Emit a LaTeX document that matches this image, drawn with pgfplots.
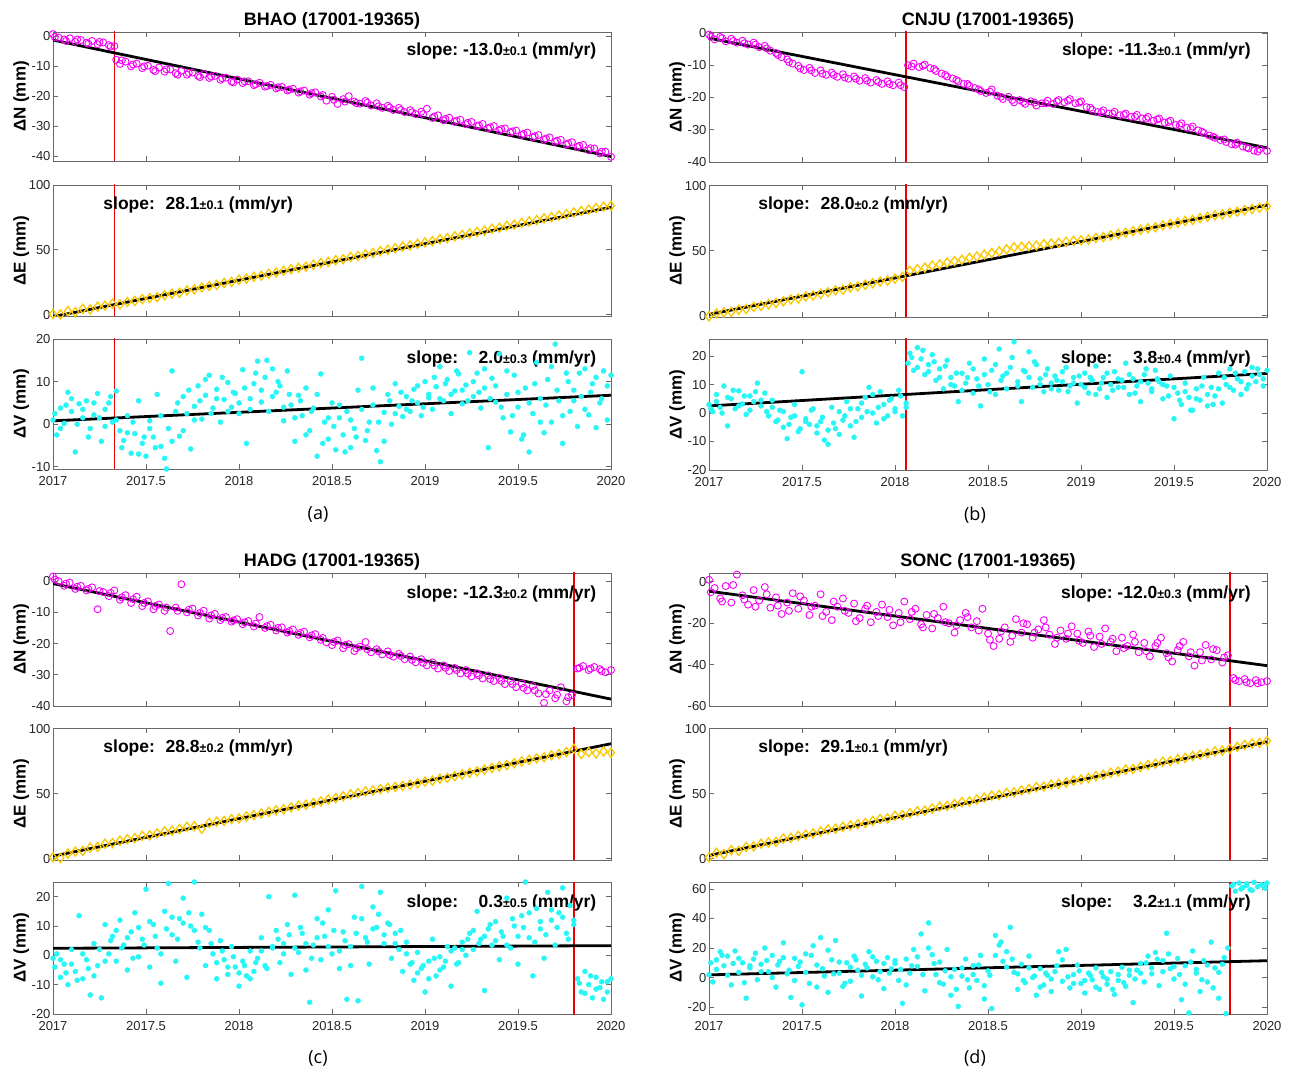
\documentclass[border=0pt]{standalone}
\usepackage{fontspec}
\setmainfont{Liberation Sans}
\newfontfamily\capfont{Open Sans}
\usepackage{pgfplots}
\pgfplotsset{compat=1.18}

\definecolor{boxgray}{RGB}{105,105,105}
\definecolor{labgray}{RGB}{38,38,38}
\definecolor{goldy}{RGB}{250,200,0}
\definecolor{cyanish}{RGB}{40,245,245}
\definecolor{magn}{RGB}{245,0,245}
\definecolor{brkred}{RGB}{235,0,0}

\newcommand{\tickfont}{\fontsize{13}{14}\selectfont}
\newcommand{\labfont}{\fontsize{17}{18}\selectfont\bfseries}
\newcommand{\titfont}{\fontsize{18}{19}\selectfont\bfseries}
\newcommand{\slp}[3]{\fontsize{17.5}{18}\selectfont\bfseries slope:\hspace{#1}#2{\fontsize{12.5}{13}\selectfont\bfseries ±#3} (mm/yr)}

\pgfplotsset{
  base/.style={scale only axis, width=558pt, xmin=2017, xmax=2020,
    xtick={2017,2017.5,2018,2018.5,2019,2019.5,2020}, xticklabels={},
    tick align=inside, tick pos=both, xticklabel pos=lower, yticklabel pos=left,
    major tick length=5pt,
    axis line style={draw=boxgray, line width=0.9pt},
    tick style={draw=boxgray, line width=0.8pt},
    ticklabel style={font=\tickfont, text=labgray},
    yticklabel style={xshift=1pt},
    every axis y label/.style={at={(axis description cs:-0.057,0.5)}, rotate=90, anchor=center, font=\labfont},
    title style={font=\titfont, yshift=-7pt}},
  vax/.style={xticklabels={2017,2017.5,2018,2018.5,2019,2019.5,2020}, xticklabel style={yshift=-4pt}},
  nser/.style={only marks, mark=o, mark size=3.5pt, color=magn, line width=0.9pt},
  eser/.style={only marks, mark=diamond, mark size=4.6pt, color=goldy, line width=1.3pt},
  vser/.style={only marks, mark=*, mark size=2.5pt, color=cyanish},
  brk/.style={draw=brkred, color=brkred, line width=1.6pt},
  fit/.style={draw=black, line width=2.8pt},
}

\begin{document}
\begin{tikzpicture}
\path[use as bounding box] (0,0) rectangle (1290pt,1071pt);

% ---------------- (a) BHAO ----------------
\begin{axis}[base, at={(53pt,910pt)}, height=129pt, ymin=-41.7, ymax=1.5,
  ytick={-40,-30,-20,-10,0}, yticklabels={-40,-30,-20,-10,0},
  ylabel={ΔN (mm)}, title={BHAO (17001-19365)}]
\addplot[nser] coordinates {
(2017.00,0.8)(2017.03,-0.4)(2017.06,-1.0)(2017.09,-0.6)(2017.12,-1.8)(2017.15,-1.2)(2017.18,-2.1)(2017.21,-1.5)
(2017.24,-2.6)(2017.27,-2.0)(2017.30,-2.9)(2017.33,-3.2)(2017.34,-7.8)(2017.36,-9.2)(2017.39,-8.4)(2017.42,-10.0)
(2017.45,-9.1)(2017.48,-10.6)(2017.51,-9.8)(2017.54,-11.2)(2017.57,-10.4)(2017.60,-11.8)(2017.63,-11.0)(2017.66,-12.3)
(2017.69,-11.5)(2017.72,-12.8)(2017.75,-12.1)(2017.78,-13.2)(2017.81,-12.6)(2017.84,-13.9)(2017.87,-13.2)(2017.90,-14.5)
(2017.93,-13.8)(2017.96,-15.1)(2017.99,-14.4)(2018.02,-15.6)(2018.05,-15.0)(2018.08,-16.3)(2018.11,-15.5)(2018.14,-16.8)
(2018.17,-16.2)(2018.20,-17.4)(2018.23,-16.9)(2018.26,-18.1)(2018.29,-17.5)(2018.32,-18.8)(2018.35,-18.1)(2018.38,-19.5)
(2018.41,-18.7)(2018.44,-20.1)(2018.47,-21.5)(2018.50,-20.2)(2018.53,-22.6)(2018.56,-21.0)(2018.59,-20.0)(2018.62,-21.8)
(2018.65,-22.5)(2018.68,-21.6)(2018.71,-23.1)(2018.74,-22.4)(2018.77,-23.9)(2018.80,-23.2)(2018.83,-24.6)(2018.86,-23.9)
(2018.89,-25.3)(2018.92,-24.7)(2018.95,-26.0)(2018.98,-25.2)(2019.01,-24.2)(2019.04,-27.3)(2019.07,-26.4)(2019.10,-28.1)
(2019.13,-27.2)(2019.16,-28.6)(2019.19,-27.9)(2019.22,-29.4)(2019.25,-28.6)(2019.28,-30.0)(2019.31,-29.3)(2019.34,-30.8)
(2019.37,-30.0)(2019.40,-31.5)(2019.43,-30.8)(2019.46,-32.2)(2019.49,-31.5)(2019.52,-33.0)(2019.55,-32.2)(2019.58,-33.8)
(2019.61,-33.0)(2019.64,-34.6)(2019.67,-33.8)(2019.70,-35.3)(2019.73,-34.6)(2019.76,-36.2)(2019.79,-35.4)(2019.82,-37.0)
(2019.85,-36.3)(2019.88,-38.1)(2019.91,-37.5)(2019.94,-39.2)(2019.97,-38.6)(2020.00,-40.3)};
\addplot[nser] coordinates {
(2017.01,-0.2)(2017.07,-1.5)(2017.13,-1.0)(2017.19,-2.4)(2017.25,-1.8)(2017.31,-3.4)(2017.37,-8.0)(2017.43,-9.4)
(2017.49,-10.0)(2017.55,-11.6)(2017.61,-11.0)(2017.67,-12.8)(2017.73,-12.2)(2017.79,-13.6)(2017.85,-13.4)(2017.91,-14.0)
(2017.97,-15.4)(2018.03,-15.0)(2018.09,-16.0)(2018.15,-16.6)(2018.21,-17.0)(2018.27,-17.8)(2018.33,-18.4)(2018.39,-19.0)
(2018.45,-19.6)(2018.51,-21.2)(2018.57,-21.8)(2018.63,-22.3)(2018.69,-22.2)(2018.75,-23.4)(2018.81,-23.8)(2018.87,-24.6)
(2018.93,-25.4)(2018.99,-26.0)(2019.05,-26.8)(2019.11,-27.6)(2019.17,-28.2)(2019.23,-28.9)(2019.29,-29.8)(2019.35,-30.4)
(2019.41,-31.0)(2019.47,-31.8)(2019.53,-32.6)(2019.59,-33.4)(2019.65,-34.2)(2019.71,-34.9)(2019.77,-35.8)(2019.83,-36.6)
(2019.89,-37.4)(2019.95,-38.6)};
\addplot[brk] coordinates {(2017.33,-50) (2017.33,10)};
\addplot[fit] coordinates {(2017,-1.2) (2020,-40.2)};
\node[anchor=east] at (rel axis cs:0.98,0.855) {\slp{4.9pt}{-13.0}{0.1}};
\end{axis}

\begin{axis}[base, at={(53pt,755pt)}, height=131pt, ymin=-1, ymax=100,
  ytick={0,50,100}, yticklabels={0,50,100}, ylabel={ΔE (mm)}]
\addplot[eser] coordinates {
(2017.00,0.5)(2017.04,0.2)(2017.08,2.8)(2017.12,2.0)(2017.16,4.5)(2017.20,4.0)(2017.24,6.2)(2017.28,7.0)(2017.32,8.5)
(2017.36,8.0)(2017.40,9.8)(2017.44,10.6)(2017.48,12.0)(2017.52,12.8)(2017.56,13.5)(2017.60,15.0)(2017.64,16.2)(2017.68,16.8)
(2017.72,18.7)(2017.76,19.5)(2017.80,21.0)(2017.84,22.1)(2017.88,23.0)(2017.92,24.5)(2017.96,25.3)(2018.00,27.0)(2018.04,27.8)
(2018.08,29.2)(2018.12,30.0)(2018.16,31.6)(2018.20,32.5)(2018.24,33.9)(2018.28,35.0)(2018.32,36.2)(2018.36,37.0)(2018.40,38.6)
(2018.44,39.8)(2018.48,40.6)(2018.52,42.0)(2018.56,42.8)(2018.60,44.5)(2018.64,45.3)(2018.68,46.6)(2018.72,47.5)(2018.76,49.0)
(2018.80,50.0)(2018.84,51.2)(2018.88,52.5)(2018.92,53.4)(2018.96,54.6)(2019.00,55.8)(2019.04,56.7)(2019.08,58.2)(2019.12,59.0)
(2019.16,60.4)(2019.20,61.5)(2019.24,62.6)(2019.28,63.8)(2019.32,64.8)(2019.36,66.3)(2019.40,67.1)(2019.44,68.5)(2019.48,69.4)
(2019.52,70.8)(2019.56,71.9)(2019.60,72.9)(2019.64,74.3)(2019.68,75.2)(2019.72,76.5)(2019.76,77.6)(2019.80,78.8)(2019.84,79.9)
(2019.88,81.0)(2019.92,82.2)(2019.96,83.3)(2020.00,84.0)};
\addplot[brk] coordinates {(2017.33,-10) (2017.33,110)};
\addplot[fit] coordinates {(2017,-1.5) (2020,82.8)};
\node[anchor=west] at (rel axis cs:0.084,0.85) {\slp{10.7pt}{28.1}{0.1}};
\end{axis}

\begin{axis}[base, vax, at={(53pt,602pt)}, height=130pt, ymin=-10.5, ymax=20,
  ytick={-10,0,10,20}, yticklabels={-10,0,10,20}, ylabel={ΔV (mm)}]
\addplot[vser] coordinates {
(2017.00,1.0)(2017.02,-2.5)(2017.04,3.8)(2017.06,0.2)(2017.08,7.5)(2017.10,3.0)(2017.12,-6.5)(2017.14,4.8)(2017.16,1.5)
(2017.18,5.5)(2017.20,-1.0)(2017.22,2.2)(2017.24,7.2)(2017.26,-4.0)(2017.28,3.5)(2017.30,5.0)(2017.32,0.5)(2017.34,7.8)
(2017.36,-1.5)(2017.38,-3.8)(2017.40,2.0)(2017.42,-6.8)(2017.44,-2.2)(2017.46,5.5)(2017.48,-4.5)(2017.50,-7.5)(2017.52,0.8)
(2017.54,-3.0)(2017.56,7.0)(2017.58,-5.2)(2017.60,-8.0)(2017.62,-1.0)(2017.64,12.5)(2017.66,3.0)(2017.68,-2.8)(2017.70,6.5)
(2017.72,2.5)(2017.74,-5.8)(2017.76,4.2)(2017.78,9.0)(2017.80,1.2)(2017.82,6.8)(2017.84,11.5)(2017.86,3.8)(2017.88,8.2)
(2017.90,0.5)(2017.92,5.8)(2017.94,9.8)(2017.96,4.0)(2017.98,7.2)(2018.00,2.5)(2018.02,12.8)(2018.04,-4.5)(2018.06,6.0)
(2018.08,9.5)(2018.10,14.8)(2018.12,5.2)(2018.14,11.0)(2018.16,3.0)(2018.18,13.0)(2018.20,7.5)(2018.22,9.0)(2018.24,0.8)
(2018.26,12.5)(2018.28,4.5)(2018.30,-4.0)(2018.32,6.8)(2018.34,2.0)(2018.36,8.5)(2018.38,-1.5)(2018.40,3.8)(2018.42,-7.5)
(2018.44,11.8)(2018.46,0.5)(2018.48,-3.5)(2018.50,5.0)(2018.52,-6.0)(2018.54,1.5)(2018.56,-2.5)(2018.58,3.0)(2018.60,-5.5)
(2018.62,-1.0)(2018.64,8.0)(2018.66,15.5)(2018.68,-3.8)(2018.70,0.5)(2018.72,4.5)(2018.74,-6.2)(2018.76,-8.8)(2018.78,2.8)
(2018.80,7.0)(2018.82,0.0)(2018.84,9.5)(2018.86,4.2)(2018.88,1.8)(2018.90,6.5)(2018.92,3.0)(2018.94,8.2)(2018.96,5.0)
(2018.98,2.0)(2019.00,10.0)(2019.02,6.2)(2019.04,3.5)(2019.06,8.8)(2019.08,13.5)(2019.10,5.5)(2019.12,10.5)(2019.14,2.5)
(2019.16,7.8)(2019.18,11.8)(2019.20,4.8)(2019.22,9.2)(2019.24,16.8)(2019.26,6.5)(2019.28,12.0)(2019.30,3.8)(2019.32,8.5)
(2019.34,-5.5)(2019.36,10.8)(2019.38,5.2)(2019.40,16.5)(2019.42,1.5)(2019.44,7.0)(2019.46,-1.8)(2019.48,11.5)(2019.50,4.0)
(2019.52,-3.5)(2019.54,8.5)(2019.56,-6.5)(2019.58,2.5)(2019.60,14.5)(2019.62,6.0)(2019.64,-2.0)(2019.66,10.5)(2019.68,0.5)
(2019.70,18.8)(2019.72,5.5)(2019.74,-4.5)(2019.76,12.0)(2019.78,3.0)(2019.80,8.0)(2019.82,-0.5)(2019.84,6.5)(2019.86,13.0)
(2019.88,2.2)(2019.90,9.5)(2019.92,-0.8)(2019.94,5.0)(2019.96,12.5)(2019.98,1.0)(2020.00,11.5)};
\addplot[vser] coordinates {
(2017.01,2.5)(2017.04,-1.0)(2017.07,4.5)(2017.10,6.0)(2017.13,0.0)(2017.16,3.5)(2017.19,-3.0)(2017.22,5.0)(2017.25,1.5)
(2017.28,-0.5)(2017.31,6.5)(2017.34,1.0)(2017.37,-5.5)(2017.40,-2.0)(2017.43,0.5)(2017.46,-7.0)(2017.49,-3.0)(2017.52,-1.0)
(2017.55,-5.5)(2017.58,2.0)(2017.61,-10.5)(2017.64,-4.0)(2017.67,5.0)(2017.70,-1.5)(2017.73,8.0)(2017.76,1.0)(2017.79,5.5)
(2017.82,10.5)(2017.85,2.5)(2017.88,6.0)(2017.91,11.0)(2017.94,3.0)(2017.97,7.5)(2018.00,5.0)(2018.03,8.5)(2018.06,3.5)
(2018.09,12.0)(2018.12,8.0)(2018.15,15.0)(2018.18,6.5)(2018.21,10.0)(2018.24,4.0)(2018.27,7.0)(2018.30,1.5)(2018.33,5.5)
(2018.36,-2.5)(2018.39,3.0)(2018.42,7.0)(2018.45,-4.5)(2018.48,1.5)(2018.51,-0.5)(2018.54,4.5)(2018.57,-6.5)(2018.60,1.0)
(2018.63,-3.0)(2018.66,3.5)(2018.69,-1.5)(2018.72,8.5)(2018.75,0.5)(2018.78,-4.0)(2018.81,5.5)(2018.84,2.5)(2018.87,7.5)
(2018.90,3.5)(2018.93,5.5)(2018.96,9.0)(2018.99,4.0)(2019.02,7.0)(2019.05,11.0)(2019.08,6.0)(2019.11,9.5)(2019.14,7.0)
(2019.17,12.5)(2019.20,8.0)(2019.23,5.5)(2019.26,10.0)(2019.29,7.5)(2019.32,13.0)(2019.35,6.0)(2019.38,9.0)(2019.41,4.0)
(2019.44,12.5)(2019.47,2.0)(2019.50,7.5)(2019.53,-2.5)(2019.56,5.0)(2019.59,9.5)(2019.62,0.5)(2019.65,4.5)(2019.68,13.5)
(2019.71,8.0)(2019.74,2.0)(2019.77,10.0)(2019.80,5.5)(2019.83,12.0)(2019.86,3.5)(2019.89,7.5)(2019.92,11.0)(2019.95,6.0)
(2019.98,9.0)};
\addplot[brk] coordinates {(2017.33,-30) (2017.33,30)};
\addplot[fit] coordinates {(2017,0.8) (2020,6.8)};
\node[anchor=east] at (rel axis cs:0.98,0.85) {\slp{20.5pt}{2.0}{0.3}};
\end{axis}

% ---------------- (b) CNJU ----------------
\begin{axis}[base, at={(709pt,909pt)}, height=130pt, ymin=-40, ymax=0.3,
  ytick={-40,-30,-20,-10,0}, yticklabels={-40,-30,-20,-10,0},
  ylabel={ΔN (mm)}, title={CNJU (17001-19365)}]
\addplot[nser] coordinates {
(2017.00,-0.5)(2017.03,-2.0)(2017.06,-1.2)(2017.09,-2.6)(2017.12,-1.8)(2017.15,-3.0)(2017.18,-2.4)(2017.21,-3.6)
(2017.24,-3.0)(2017.27,-4.4)(2017.30,-4.0)(2017.33,-5.5)(2017.36,-6.2)(2017.39,-7.5)(2017.42,-8.2)(2017.45,-9.5)
(2017.48,-10.2)(2017.51,-11.5)(2017.54,-10.8)(2017.57,-12.4)(2017.60,-11.6)(2017.63,-13.0)(2017.66,-12.3)(2017.69,-13.6)
(2017.72,-12.8)(2017.75,-14.2)(2017.78,-13.5)(2017.81,-14.8)(2017.84,-14.0)(2017.87,-15.4)(2017.90,-14.6)(2017.93,-15.8)
(2017.96,-15.0)(2017.99,-16.2)(2018.02,-15.4)(2018.05,-16.8)(2018.07,-10.0)(2018.10,-9.5)(2018.13,-10.6)(2018.16,-9.8)
(2018.19,-10.9)(2018.22,-11.8)(2018.25,-12.6)(2018.28,-13.5)(2018.31,-14.1)(2018.34,-15.0)(2018.37,-15.8)(2018.40,-16.4)
(2018.43,-17.1)(2018.46,-18.0)(2018.49,-18.6)(2018.52,-17.5)(2018.55,-19.4)(2018.58,-20.5)(2018.61,-19.8)(2018.64,-21.5)
(2018.67,-20.8)(2018.70,-22.0)(2018.73,-21.2)(2018.76,-22.5)(2018.79,-21.8)(2018.82,-21.0)(2018.85,-22.0)(2018.88,-20.8)
(2018.91,-21.5)(2018.94,-20.5)(2018.97,-21.8)(2019.00,-21.2)(2019.03,-23.0)(2019.06,-23.8)(2019.09,-24.5)(2019.12,-24.0)
(2019.15,-25.0)(2019.18,-24.4)(2019.21,-25.5)(2019.24,-25.0)(2019.27,-26.0)(2019.30,-25.4)(2019.33,-26.5)(2019.36,-26.0)
(2019.39,-27.2)(2019.42,-26.5)(2019.45,-27.8)(2019.48,-27.2)(2019.51,-28.5)(2019.54,-28.0)(2019.57,-29.4)(2019.60,-29.0)
(2019.63,-30.2)(2019.66,-31.0)(2019.69,-31.8)(2019.72,-32.5)(2019.75,-33.2)(2019.78,-33.8)(2019.81,-34.5)(2019.84,-34.0)
(2019.87,-35.2)(2019.90,-35.8)(2019.93,-36.5)(2019.96,-36.0)(2020.00,-36.6)};
\addplot[nser] coordinates {
(2017.01,-1.2)(2017.07,-1.6)(2017.13,-2.5)(2017.19,-3.2)(2017.25,-3.6)(2017.31,-4.8)(2017.37,-6.8)(2017.43,-9.0)
(2017.49,-11.0)(2017.55,-11.6)(2017.61,-12.6)(2017.67,-13.0)(2017.73,-13.8)(2017.79,-14.2)(2017.85,-14.8)(2017.91,-15.2)
(2017.97,-15.8)(2018.03,-16.2)(2018.09,-10.4)(2018.15,-10.2)(2018.21,-11.2)(2018.27,-13.0)(2018.33,-14.6)(2018.39,-15.8)
(2018.45,-17.5)(2018.51,-18.2)(2018.57,-19.8)(2018.63,-20.8)(2018.69,-21.4)(2018.75,-21.6)(2018.81,-21.8)(2018.87,-21.2)
(2018.93,-21.0)(2018.99,-21.6)(2019.05,-23.2)(2019.11,-24.6)(2019.17,-25.0)(2019.23,-25.4)(2019.29,-26.0)(2019.35,-26.6)
(2019.41,-26.8)(2019.47,-27.6)(2019.53,-28.6)(2019.59,-29.6)(2019.65,-30.6)(2019.71,-32.2)(2019.77,-33.0)(2019.83,-34.6)
(2019.89,-35.5)(2019.95,-36.8)};
\addplot[brk] coordinates {(2018.06,-50) (2018.06,10)};
\addplot[fit] coordinates {(2017,-1.6) (2020,-35.6)};
\node[anchor=east] at (rel axis cs:0.977,0.855) {\slp{4.9pt}{-11.3}{0.1}};
\end{axis}

\begin{axis}[base, at={(709pt,754pt)}, height=132pt, ymin=-1, ymax=100.5,
  ytick={0,50,100}, yticklabels={0,50,100}, ylabel={ΔE (mm)}]
\addplot[eser] coordinates {
(2017.00,-0.5)(2017.04,1.8)(2017.08,2.5)(2017.12,3.0)(2017.16,4.5)(2017.20,5.2)(2017.24,6.8)(2017.28,7.5)(2017.32,8.8)
(2017.36,9.8)(2017.40,11.0)(2017.44,12.5)(2017.48,13.2)(2017.52,14.8)(2017.56,15.5)(2017.60,16.8)(2017.64,18.0)(2017.68,19.5)
(2017.72,20.0)(2017.76,21.8)(2017.80,22.5)(2017.84,23.8)(2017.88,25.0)(2017.92,26.2)(2017.96,27.0)(2018.00,28.5)(2018.04,29.8)
(2018.08,34.5)(2018.12,35.8)(2018.16,37.0)(2018.20,38.5)(2018.24,39.4)(2018.28,40.8)(2018.32,42.0)(2018.36,43.0)(2018.40,44.5)
(2018.44,45.5)(2018.48,47.0)(2018.52,48.2)(2018.56,49.5)(2018.60,51.0)(2018.64,52.5)(2018.68,53.0)(2018.72,53.5)(2018.76,54.0)
(2018.80,55.0)(2018.84,55.5)(2018.88,56.0)(2018.92,56.8)(2018.96,57.5)(2019.00,58.0)(2019.04,58.5)(2019.08,59.8)(2019.12,60.5)
(2019.16,61.8)(2019.20,62.8)(2019.24,63.8)(2019.28,65.0)(2019.32,66.0)(2019.36,67.2)(2019.40,68.0)(2019.44,69.5)(2019.48,70.5)
(2019.52,71.5)(2019.56,72.8)(2019.60,73.6)(2019.64,75.0)(2019.68,76.0)(2019.72,77.2)(2019.76,78.0)(2019.80,79.2)(2019.84,80.0)
(2019.88,81.2)(2019.92,82.0)(2019.96,83.0)(2020.00,84.0)};
\addplot[brk] coordinates {(2018.06,-10) (2018.06,110)};
\addplot[fit] coordinates {(2017,1.0) (2020,85.0)};
\node[anchor=west] at (rel axis cs:0.082,0.85) {\slp{10.7pt}{28.0}{0.2}};
\end{axis}

\begin{axis}[base, vax, at={(709pt,601pt)}, height=131pt, ymin=-20, ymax=26,
  ytick={-20,-10,0,10,20}, yticklabels={-20,-10,0,10,20}, ylabel={ΔV (mm)}]
\addplot[vser] coordinates {
(2017.00,3.0)(2017.02,0.5)(2017.04,6.5)(2017.06,2.0)(2017.08,9.5)(2017.10,-4.5)(2017.12,5.0)(2017.14,1.5)(2017.16,7.8)
(2017.18,3.2)(2017.20,-0.5)(2017.22,6.0)(2017.24,4.0)(2017.26,10.5)(2017.28,2.5)(2017.30,7.0)(2017.32,-1.0)(2017.34,4.5)
(2017.36,-3.0)(2017.38,1.0)(2017.40,-5.0)(2017.42,-9.0)(2017.44,-1.5)(2017.46,3.0)(2017.48,-6.5)(2017.50,14.5)(2017.52,-2.0)
(2017.54,-4.0)(2017.56,1.5)(2017.58,-7.0)(2017.60,-3.0)(2017.62,-9.5)(2017.64,-11.0)(2017.66,2.0)(2017.68,-5.5)(2017.70,0.5)
(2017.72,-2.5)(2017.74,4.0)(2017.76,-4.5)(2017.78,-8.5)(2017.80,1.5)(2017.82,-1.5)(2017.84,5.5)(2017.86,9.0)(2017.88,0.0)
(2017.90,-3.5)(2017.92,7.5)(2017.94,3.0)(2017.96,-1.0)(2017.98,5.0)(2018.00,1.5)(2018.02,8.0)(2018.04,-1.0)(2018.06,3.5)
(2018.07,17.5)(2018.08,21.0)(2018.10,15.0)(2018.12,23.0)(2018.14,19.0)(2018.16,13.5)(2018.18,17.0)(2018.20,20.5)(2018.22,11.5)
(2018.24,15.5)(2018.26,8.5)(2018.28,18.5)(2018.30,12.5)(2018.32,9.5)(2018.34,4.0)(2018.36,14.0)(2018.38,10.5)(2018.40,17.5)
(2018.42,7.0)(2018.44,12.0)(2018.46,2.5)(2018.48,19.0)(2018.50,10.0)(2018.52,15.0)(2018.54,6.5)(2018.56,22.5)(2018.58,13.0)
(2018.60,8.5)(2018.62,16.0)(2018.64,25.0)(2018.66,11.0)(2018.68,4.0)(2018.70,14.5)(2018.72,21.5)(2018.74,9.0)(2018.76,17.0)
(2018.78,12.0)(2018.80,7.5)(2018.82,15.5)(2018.84,10.5)(2018.86,13.0)(2018.88,8.0)(2018.90,11.0)(2018.92,16.0)(2018.94,9.5)
(2018.96,12.5)(2018.98,3.5)(2019.00,10.0)(2019.02,14.0)(2019.04,7.0)(2019.06,11.5)(2019.08,16.5)(2019.10,8.5)(2019.12,12.5)
(2019.14,5.5)(2019.16,10.0)(2019.18,14.5)(2019.20,9.0)(2019.22,11.5)(2019.24,17.5)(2019.26,6.5)(2019.28,12.0)(2019.30,9.5)
(2019.32,4.0)(2019.34,13.5)(2019.36,10.5)(2019.38,7.5)(2019.40,15.0)(2019.42,11.0)(2019.44,5.0)(2019.46,9.5)(2019.48,13.0)
(2019.50,-2.0)(2019.52,7.0)(2019.54,3.0)(2019.56,10.5)(2019.58,5.5)(2019.60,1.0)(2019.62,8.5)(2019.64,4.5)(2019.66,12.5)
(2019.68,2.5)(2019.70,9.0)(2019.72,6.0)(2019.74,14.0)(2019.76,3.5)(2019.78,10.0)(2019.80,15.5)(2019.82,8.0)(2019.84,12.0)
(2019.86,6.5)(2019.88,14.5)(2019.90,10.0)(2019.92,16.0)(2019.94,11.0)(2019.96,13.5)(2019.98,9.5)(2020.00,15.0)};
\addplot[vser] coordinates {
(2017.01,1.5)(2017.04,4.0)(2017.07,0.0)(2017.10,5.5)(2017.13,8.0)(2017.16,2.5)(2017.19,6.0)(2017.22,1.0)(2017.25,7.5)
(2017.28,4.5)(2017.31,0.5)(2017.34,2.0)(2017.37,-2.5)(2017.40,0.5)(2017.43,-4.0)(2017.46,-1.0)(2017.49,-5.5)(2017.52,-3.0)
(2017.55,1.0)(2017.58,-4.5)(2017.61,-1.5)(2017.64,-6.0)(2017.67,-3.5)(2017.70,-7.5)(2017.73,-1.0)(2017.76,1.5)(2017.79,-3.0)
(2017.82,3.5)(2017.85,0.5)(2017.88,6.5)(2017.91,2.0)(2017.94,-2.0)(2017.97,4.5)(2018.00,0.5)(2018.03,6.0)(2018.06,2.0)
(2018.09,19.5)(2018.12,16.0)(2018.15,22.0)(2018.18,14.5)(2018.21,18.0)(2018.24,12.5)(2018.27,16.5)(2018.30,10.0)(2018.33,14.0)
(2018.36,8.0)(2018.39,12.5)(2018.42,15.5)(2018.45,9.5)(2018.48,13.5)(2018.51,7.5)(2018.54,17.0)(2018.57,11.5)(2018.60,14.0)
(2018.63,19.5)(2018.66,9.5)(2018.69,15.0)(2018.72,12.5)(2018.75,18.0)(2018.78,10.0)(2018.81,13.5)(2018.84,8.5)(2018.87,11.5)
(2018.90,14.5)(2018.93,7.5)(2018.96,10.5)(2018.99,13.0)(2019.02,9.0)(2019.05,12.5)(2019.08,6.5)(2019.11,10.5)(2019.14,14.0)
(2019.17,8.0)(2019.20,12.0)(2019.23,9.0)(2019.26,13.5)(2019.29,7.0)(2019.32,11.0)(2019.35,15.5)(2019.38,8.5)(2019.41,12.0)
(2019.44,10.0)(2019.47,6.0)(2019.50,9.0)(2019.53,4.5)(2019.56,7.5)(2019.59,1.0)(2019.62,5.0)(2019.65,9.5)(2019.68,6.5)
(2019.71,3.0)(2019.74,8.5)(2019.77,12.5)(2019.80,9.0)(2019.83,14.0)(2019.86,11.0)(2019.89,8.5)(2019.92,13.0)(2019.95,15.5)
(2019.98,12.0)};
\addplot[brk] coordinates {(2018.06,-30) (2018.06,30)};
\addplot[fit] coordinates {(2017,2.5) (2020,13.9)};
\node[anchor=east] at (rel axis cs:0.977,0.85) {\slp{20.5pt}{3.8}{0.4}};
\end{axis}

% ---------------- (c) HADG ----------------
\begin{axis}[base, at={(53pt,365pt)}, height=133pt, ymin=-40, ymax=2.6,
  ytick={-40,-30,-20,-10,0}, yticklabels={-40,-30,-20,-10,0},
  ylabel={ΔN (mm)}, title={HADG (17001-19365)}]
\addplot[nser] coordinates {
(2017.00,1.5)(2017.03,0.0)(2017.06,-1.5)(2017.09,-0.5)(2017.12,-2.5)(2017.15,-1.5)(2017.18,-3.0)(2017.21,-2.0)
(2017.24,-9.0)(2017.27,-3.5)(2017.30,-4.8)(2017.33,-3.0)(2017.36,-6.0)(2017.39,-4.5)(2017.42,-7.0)(2017.45,-5.0)
(2017.48,-8.0)(2017.51,-6.5)(2017.54,-9.0)(2017.57,-7.5)(2017.60,-9.5)(2017.63,-16.0)(2017.66,-8.5)(2017.69,-1.0)
(2017.72,-10.0)(2017.75,-8.8)(2017.78,-11.0)(2017.81,-9.5)(2017.84,-12.0)(2017.87,-10.5)(2017.90,-12.5)(2017.93,-11.5)
(2017.96,-13.0)(2017.99,-12.2)(2018.02,-13.8)(2018.05,-12.8)(2018.08,-14.5)(2018.11,-11.5)(2018.14,-15.0)(2018.17,-14.0)
(2018.20,-15.8)(2018.23,-14.8)(2018.26,-16.5)(2018.29,-15.5)(2018.32,-17.2)(2018.35,-16.2)(2018.38,-18.0)(2018.41,-17.0)
(2018.44,-18.8)(2018.47,-19.6)(2018.50,-20.5)(2018.53,-19.0)(2018.56,-21.5)(2018.59,-20.2)(2018.62,-22.4)(2018.65,-21.0)
(2018.68,-19.5)(2018.71,-22.8)(2018.74,-21.8)(2018.77,-23.5)(2018.80,-22.5)(2018.83,-24.2)(2018.86,-23.3)(2018.89,-25.0)
(2018.92,-24.2)(2018.95,-26.0)(2018.98,-25.0)(2019.01,-27.0)(2019.04,-26.0)(2019.07,-28.0)(2019.10,-27.0)(2019.13,-28.8)
(2019.16,-27.8)(2019.19,-29.6)(2019.22,-28.5)(2019.25,-30.5)(2019.28,-29.5)(2019.31,-31.2)(2019.34,-30.2)(2019.37,-32.0)
(2019.40,-31.0)(2019.43,-33.0)(2019.46,-32.0)(2019.49,-34.0)(2019.52,-32.8)(2019.55,-35.0)(2019.58,-33.6)(2019.61,-36.0)
(2019.64,-39.0)(2019.67,-35.0)(2019.70,-37.5)(2019.73,-34.0)(2019.76,-38.5)(2019.79,-36.5)(2019.82,-28.0)(2019.85,-27.2)
(2019.88,-28.5)(2019.91,-27.5)(2019.94,-28.2)(2019.97,-29.2)(2020.00,-28.5)};
\addplot[nser] coordinates {
(2017.01,0.5)(2017.07,-0.8)(2017.13,-1.8)(2017.19,-2.5)(2017.25,-3.2)(2017.31,-3.8)(2017.37,-5.2)(2017.43,-5.8)
(2017.49,-7.0)(2017.55,-8.0)(2017.61,-8.5)(2017.67,-9.5)(2017.73,-9.2)(2017.79,-10.2)(2017.85,-11.0)(2017.91,-11.8)
(2017.97,-12.6)(2018.03,-13.2)(2018.09,-13.6)(2018.15,-14.4)(2018.21,-15.0)(2018.27,-16.0)(2018.33,-16.6)(2018.39,-17.4)
(2018.45,-18.2)(2018.51,-19.5)(2018.57,-20.5)(2018.63,-21.5)(2018.69,-21.8)(2018.75,-22.5)(2018.81,-23.6)(2018.87,-24.0)
(2018.93,-25.2)(2018.99,-26.2)(2019.05,-27.0)(2019.11,-27.8)(2019.17,-28.5)(2019.23,-29.6)(2019.29,-30.2)(2019.35,-31.4)
(2019.41,-32.0)(2019.47,-33.0)(2019.53,-34.2)(2019.59,-35.0)(2019.65,-36.2)(2019.71,-36.4)(2019.77,-37.2)(2019.83,-27.8)
(2019.89,-28.0)(2019.95,-28.8)};
\addplot[brk] coordinates {(2019.80,-50) (2019.80,10)};
\addplot[fit] coordinates {(2017,-0.8) (2020,-37.8)};
\node[anchor=east] at (rel axis cs:0.98,0.84) {\slp{4.9pt}{-12.3}{0.2}};
\end{axis}

\begin{axis}[base, at={(53pt,211pt)}, height=132pt, ymin=-1, ymax=100.5,
  ytick={0,50,100}, yticklabels={0,50,100}, ylabel={ΔE (mm)}]
\addplot[eser] coordinates {
(2017.00,1.0)(2017.04,0.5)(2017.08,4.0)(2017.12,5.5)(2017.16,6.0)(2017.20,8.5)(2017.24,9.0)(2017.28,11.5)(2017.32,12.0)
(2017.36,13.8)(2017.40,15.0)(2017.44,15.8)(2017.48,17.5)(2017.52,18.0)(2017.56,19.5)(2017.60,21.0)(2017.64,21.5)(2017.68,22.8)
(2017.72,24.5)(2017.76,25.0)(2017.80,23.0)(2017.84,27.5)(2017.88,28.5)(2017.92,29.0)(2017.96,30.5)(2018.00,31.0)(2018.04,32.5)
(2018.08,33.5)(2018.12,34.8)(2018.16,36.0)(2018.20,37.2)(2018.24,38.0)(2018.28,39.5)(2018.32,40.8)(2018.36,41.5)(2018.40,42.8)
(2018.44,44.0)(2018.48,45.5)(2018.52,46.5)(2018.56,48.0)(2018.60,49.5)(2018.64,50.5)(2018.68,51.8)(2018.72,52.5)(2018.76,53.5)
(2018.80,54.5)(2018.84,55.2)(2018.88,56.0)(2018.92,57.0)(2018.96,58.0)(2019.00,59.2)(2019.04,60.0)(2019.08,61.5)(2019.12,62.2)
(2019.16,63.5)(2019.20,64.8)(2019.24,66.0)(2019.28,67.2)(2019.32,68.5)(2019.36,69.8)(2019.40,71.0)(2019.44,72.0)(2019.48,73.5)
(2019.52,74.8)(2019.56,76.0)(2019.60,77.2)(2019.64,78.0)(2019.68,79.5)(2019.72,80.5)(2019.76,82.0)(2019.80,84.5)(2019.84,80.5)
(2019.88,82.0)(2019.92,81.0)(2019.96,82.5)(2020.00,81.5)};
\addplot[brk] coordinates {(2019.80,-10) (2019.80,110)};
\addplot[fit] coordinates {(2017,2.0) (2020,88.4)};
\node[anchor=west] at (rel axis cs:0.084,0.85) {\slp{10.7pt}{28.8}{0.2}};
\end{axis}

\begin{axis}[base, vax, at={(53pt,57pt)}, height=132pt, ymin=-20, ymax=25,
  ytick={-20,-10,0,10,20}, yticklabels={-20,-10,0,10,20}, ylabel={ΔV (mm)}]
\addplot[vser] coordinates {
(2017.00,-1.0)(2017.02,0.5)(2017.04,-7.5)(2017.06,-3.0)(2017.08,-10.0)(2017.10,2.0)(2017.12,-5.5)(2017.14,13.5)(2017.16,-8.0)
(2017.18,-1.5)(2017.20,-13.5)(2017.22,4.0)(2017.24,-3.5)(2017.26,-14.5)(2017.28,10.5)(2017.30,0.5)(2017.32,6.5)(2017.34,-2.0)
(2017.36,12.0)(2017.38,3.5)(2017.40,-5.0)(2017.42,8.0)(2017.44,14.5)(2017.46,-0.5)(2017.48,5.5)(2017.50,22.5)(2017.52,-4.0)
(2017.54,10.5)(2017.56,2.5)(2017.58,-9.5)(2017.60,15.0)(2017.62,24.5)(2017.64,7.0)(2017.66,-2.0)(2017.68,12.5)(2017.70,19.5)
(2017.72,-7.5)(2017.74,10.0)(2017.76,25.0)(2017.78,4.5)(2017.80,14.0)(2017.82,-3.5)(2017.84,8.5)(2017.86,0.5)(2017.88,-8.0)
(2017.90,5.0)(2017.92,-1.5)(2017.94,-6.5)(2017.96,3.0)(2017.98,-4.0)(2018.00,-10.5)(2018.02,-2.0)(2018.04,-7.0)(2018.06,1.5)
(2018.08,-5.5)(2018.10,-1.0)(2018.12,6.0)(2018.14,-3.5)(2018.16,20.0)(2018.18,2.5)(2018.20,8.5)(2018.22,-2.5)(2018.24,4.0)
(2018.26,10.5)(2018.28,-6.5)(2018.30,20.5)(2018.32,1.0)(2018.34,7.5)(2018.36,-5.0)(2018.38,-16.0)(2018.40,3.5)(2018.42,12.5)
(2018.44,-1.5)(2018.46,6.5)(2018.48,15.5)(2018.50,0.5)(2018.52,22.0)(2018.54,-4.5)(2018.56,8.0)(2018.58,-15.0)(2018.60,3.0)
(2018.62,13.0)(2018.64,-15.5)(2018.66,23.5)(2018.68,6.0)(2018.70,-3.0)(2018.72,16.5)(2018.74,9.5)(2018.76,21.5)(2018.78,4.0)
(2018.80,11.0)(2018.82,-1.0)(2018.84,7.5)(2018.86,2.0)(2018.88,-5.5)(2018.90,4.5)(2018.92,-3.0)(2018.94,-8.5)(2018.96,1.0)
(2018.98,-4.5)(2019.00,-12.5)(2019.02,-2.0)(2019.04,5.5)(2019.06,-7.0)(2019.08,-0.5)(2019.10,-4.0)(2019.12,3.0)(2019.14,-10.5)
(2019.16,2.5)(2019.18,-2.5)(2019.20,4.5)(2019.22,0.0)(2019.24,7.5)(2019.26,2.0)(2019.28,15.0)(2019.30,5.5)(2019.32,-12.0)
(2019.34,9.0)(2019.36,3.5)(2019.38,11.5)(2019.40,-1.5)(2019.42,6.5)(2019.44,19.5)(2019.46,2.5)(2019.48,10.0)(2019.50,-3.0)
(2019.52,13.5)(2019.54,25.0)(2019.56,6.0)(2019.58,-7.0)(2019.60,16.0)(2019.62,9.0)(2019.64,-1.0)(2019.66,21.5)(2019.68,12.0)
(2019.70,3.5)(2019.72,14.5)(2019.74,23.0)(2019.76,7.5)(2019.78,17.0)(2019.80,10.5)(2019.82,-8.0)(2019.84,-12.5)(2019.86,-5.5)
(2019.88,-10.0)(2019.90,-14.5)(2019.92,-7.5)(2019.94,-11.0)(2019.96,-15.0)(2019.98,-9.0)(2020.00,-8.0)};
\addplot[vser] coordinates {
(2017.01,-4.0)(2017.04,-1.5)(2017.07,-6.0)(2017.10,-3.0)(2017.13,-8.5)(2017.16,0.5)(2017.19,-4.5)(2017.22,-7.0)(2017.25,2.0)
(2017.28,-2.0)(2017.31,5.0)(2017.34,8.5)(2017.37,2.5)(2017.40,6.0)(2017.43,-1.0)(2017.46,9.5)(2017.49,3.5)(2017.52,11.5)
(2017.55,6.5)(2017.58,0.5)(2017.61,9.0)(2017.64,13.0)(2017.67,5.5)(2017.70,11.0)(2017.73,14.5)(2017.76,8.5)(2017.79,2.5)
(2017.82,9.5)(2017.85,4.0)(2017.88,-2.5)(2017.91,1.5)(2017.94,-4.0)(2017.97,-0.5)(2018.00,-6.0)(2018.03,-3.5)(2018.06,-8.0)
(2018.09,-2.5)(2018.12,1.5)(2018.15,-4.5)(2018.18,3.0)(2018.21,5.5)(2018.24,0.5)(2018.27,7.0)(2018.30,2.5)(2018.33,9.5)
(2018.36,4.0)(2018.39,-1.0)(2018.42,6.0)(2018.45,11.0)(2018.48,3.0)(2018.51,8.5)(2018.54,1.5)(2018.57,5.0)(2018.60,-3.5)
(2018.63,7.5)(2018.66,12.5)(2018.69,4.5)(2018.72,9.0)(2018.75,14.0)(2018.78,7.0)(2018.81,10.5)(2018.84,4.0)(2018.87,8.5)
(2018.90,0.5)(2018.93,-2.5)(2018.96,-6.0)(2018.99,-3.5)(2019.02,-8.0)(2019.05,-1.0)(2019.08,-5.0)(2019.11,-2.0)(2019.14,1.5)
(2019.17,-3.0)(2019.20,2.0)(2019.23,5.5)(2019.26,8.5)(2019.29,4.0)(2019.32,6.5)(2019.35,10.5)(2019.38,5.0)(2019.41,8.0)
(2019.44,3.5)(2019.47,12.5)(2019.50,6.5)(2019.53,9.5)(2019.56,14.5)(2019.59,4.5)(2019.62,11.5)(2019.65,7.0)(2019.68,15.5)
(2019.71,9.5)(2019.74,13.0)(2019.77,5.5)(2019.80,12.0)(2019.83,-9.5)(2019.86,-13.0)(2019.89,-7.0)(2019.92,-11.5)(2019.95,-9.0)
(2019.98,-12.5)};
\addplot[brk] coordinates {(2019.80,-30) (2019.80,30)};
\addplot[fit] coordinates {(2017,2.4) (2020,3.3)};
\node[anchor=east] at (rel axis cs:0.98,0.84) {\slp{20.5pt}{0.3}{0.5}};
\end{axis}

% ---------------- (d) SONC ----------------
\begin{axis}[base, at={(709pt,365pt)}, height=133pt, ymin=-60, ymax=4.3,
  ytick={-60,-40,-20,0}, yticklabels={-60,-40,-20,0},
  ylabel={ΔN (mm)}, title={SONC (17001-19365)}]
\addplot[nser] coordinates {
(2017.00,1.0)(2017.03,-3.0)(2017.06,-8.0)(2017.09,-2.0)(2017.12,-10.0)(2017.15,3.5)(2017.18,-6.5)(2017.21,-11.0)
(2017.24,-4.0)(2017.27,-9.0)(2017.30,-2.5)(2017.33,-12.5)(2017.36,-7.5)(2017.39,-15.5)(2017.42,-10.0)(2017.45,-5.5)
(2017.48,-13.0)(2017.51,-9.0)(2017.54,-16.0)(2017.57,-11.5)(2017.60,-6.0)(2017.63,-14.5)(2017.66,-18.5)(2017.69,-12.0)
(2017.72,-8.0)(2017.75,-15.0)(2017.78,-10.5)(2017.81,-17.5)(2017.84,-13.0)(2017.87,-19.5)(2017.90,-14.5)(2017.93,-11.0)
(2017.96,-17.0)(2017.99,-21.0)(2018.02,-15.0)(2018.05,-9.5)(2018.08,-18.0)(2018.11,-13.0)(2018.14,-20.5)(2018.17,-16.0)
(2018.20,-22.5)(2018.23,-17.5)(2018.26,-12.0)(2018.29,-20.0)(2018.32,-24.5)(2018.35,-18.5)(2018.38,-15.0)(2018.41,-22.0)
(2018.44,-19.0)(2018.47,-13.0)(2018.50,-25.0)(2018.53,-31.0)(2018.56,-27.5)(2018.59,-22.0)(2018.62,-29.0)(2018.65,-18.0)
(2018.68,-24.5)(2018.71,-20.5)(2018.74,-27.0)(2018.77,-23.0)(2018.80,-18.5)(2018.83,-25.5)(2018.86,-30.0)(2018.89,-23.5)
(2018.92,-27.5)(2018.95,-21.5)(2018.98,-25.0)(2019.01,-29.5)(2019.04,-24.0)(2019.07,-31.5)(2019.10,-26.5)(2019.13,-22.5)
(2019.16,-29.0)(2019.19,-33.5)(2019.22,-27.0)(2019.25,-31.0)(2019.28,-25.5)(2019.31,-34.0)(2019.34,-29.5)(2019.37,-36.0)
(2019.40,-31.0)(2019.43,-27.0)(2019.46,-34.5)(2019.49,-38.5)(2019.52,-33.0)(2019.55,-29.0)(2019.58,-36.0)(2019.61,-40.5)
(2019.64,-34.0)(2019.67,-30.5)(2019.70,-37.5)(2019.73,-33.0)(2019.76,-39.0)(2019.79,-35.5)(2019.82,-46.5)(2019.85,-48.0)
(2019.88,-47.0)(2019.91,-49.0)(2019.94,-47.5)(2019.97,-48.5)(2020.00,-48.0)};
\addplot[nser] coordinates {
(2017.01,-5.0)(2017.07,-9.5)(2017.13,-1.5)(2017.19,-8.5)(2017.25,-12.0)(2017.31,-6.0)(2017.37,-11.5)(2017.43,-14.0)
(2017.49,-7.0)(2017.55,-12.0)(2017.61,-16.5)(2017.67,-9.5)(2017.73,-14.0)(2017.79,-19.0)(2017.85,-11.5)(2017.91,-16.5)
(2017.97,-13.5)(2018.03,-19.5)(2018.09,-14.5)(2018.15,-22.0)(2018.21,-15.5)(2018.27,-19.5)(2018.33,-21.0)(2018.39,-17.0)
(2018.45,-23.5)(2018.51,-28.0)(2018.57,-24.0)(2018.63,-26.0)(2018.69,-20.0)(2018.75,-24.5)(2018.81,-22.0)(2018.87,-27.0)
(2018.93,-25.0)(2018.99,-28.5)(2019.05,-26.0)(2019.11,-30.0)(2019.17,-27.5)(2019.23,-32.0)(2019.29,-29.0)(2019.35,-33.5)
(2019.41,-29.5)(2019.47,-36.5)(2019.53,-31.0)(2019.59,-34.0)(2019.65,-38.0)(2019.71,-32.5)(2019.77,-36.5)(2019.83,-47.5)
(2019.89,-48.5)(2019.95,-49.0)};
\addplot[brk] coordinates {(2019.80,-70) (2019.80,10)};
\addplot[fit] coordinates {(2017,-4.5) (2020,-40.5)};
\node[anchor=east] at (rel axis cs:0.977,0.84) {\slp{4.9pt}{-12.0}{0.3}};
\end{axis}

\begin{axis}[base, at={(709pt,211pt)}, height=132pt, ymin=-1, ymax=100.5,
  ytick={0,50,100}, yticklabels={0,50,100}, ylabel={ΔE (mm)}]
\addplot[eser] coordinates {
(2017.00,1.0)(2017.04,4.5)(2017.08,3.5)(2017.12,6.5)(2017.16,6.0)(2017.20,9.0)(2017.24,9.5)(2017.28,11.5)(2017.32,12.5)
(2017.36,13.0)(2017.40,15.5)(2017.44,16.0)(2017.48,17.5)(2017.52,18.5)(2017.56,19.5)(2017.60,21.0)(2017.64,22.5)(2017.68,23.0)
(2017.72,24.5)(2017.76,25.5)(2017.80,26.5)(2017.84,27.5)(2017.88,29.0)(2017.92,30.5)(2017.96,31.0)(2018.00,33.0)(2018.04,33.5)
(2018.08,35.0)(2018.12,36.5)(2018.16,37.0)(2018.20,38.5)(2018.24,40.0)(2018.28,40.5)(2018.32,42.0)(2018.36,43.5)(2018.40,44.0)
(2018.44,45.5)(2018.48,47.0)(2018.52,48.5)(2018.56,49.0)(2018.60,50.5)(2018.64,51.0)(2018.68,52.5)(2018.72,53.5)(2018.76,55.0)
(2018.80,55.5)(2018.84,57.0)(2018.88,57.5)(2018.92,58.5)(2018.96,60.0)(2019.00,61.0)(2019.04,62.0)(2019.08,63.5)(2019.12,64.5)
(2019.16,66.0)(2019.20,67.0)(2019.24,68.5)(2019.28,69.0)(2019.32,70.5)(2019.36,72.0)(2019.40,73.0)(2019.44,74.5)(2019.48,75.0)
(2019.52,76.5)(2019.56,77.5)(2019.60,79.0)(2019.64,80.0)(2019.68,81.0)(2019.72,82.5)(2019.76,83.0)(2019.80,84.5)(2019.84,86.0)
(2019.88,87.5)(2019.92,88.5)(2019.96,89.0)(2020.00,90.5)};
\addplot[brk] coordinates {(2019.80,-10) (2019.80,110)};
\addplot[fit] coordinates {(2017,2.5) (2020,89.8)};
\node[anchor=west] at (rel axis cs:0.082,0.85) {\slp{10.7pt}{29.1}{0.1}};
\end{axis}

\begin{axis}[base, vax, at={(709pt,57pt)}, height=132pt, ymin=-24.7, ymax=64.7,
  ytick={-20,0,20,40,60}, yticklabels={-20,0,20,40,60}, ylabel={ΔV (mm)}]
\addplot[vser] coordinates {
(2017.00,2.0)(2017.02,-3.0)(2017.04,12.0)(2017.06,17.5)(2017.08,8.0)(2017.10,14.5)(2017.12,-5.0)(2017.14,18.0)(2017.16,3.5)
(2017.18,10.0)(2017.20,-14.0)(2017.22,6.5)(2017.24,12.5)(2017.26,-1.5)(2017.28,9.0)(2017.30,20.0)(2017.32,4.0)(2017.34,15.0)
(2017.36,-6.5)(2017.38,11.0)(2017.40,23.5)(2017.42,2.5)(2017.44,-13.5)(2017.46,13.0)(2017.48,7.5)(2017.50,-18.5)(2017.52,16.0)
(2017.54,-4.0)(2017.56,21.5)(2017.58,8.5)(2017.60,27.0)(2017.62,1.0)(2017.64,-10.0)(2017.66,12.0)(2017.68,25.0)(2017.70,3.0)
(2017.72,-6.0)(2017.74,10.0)(2017.76,-2.5)(2017.78,14.5)(2017.80,5.0)(2017.82,-12.5)(2017.84,9.0)(2017.86,17.5)(2017.88,0.5)
(2017.90,11.0)(2017.92,4.0)(2017.94,-7.5)(2017.96,13.5)(2017.98,6.0)(2018.00,9.5)(2018.02,-2.0)(2018.04,-17.5)(2018.06,12.5)
(2018.08,3.0)(2018.10,19.0)(2018.12,7.5)(2018.14,29.5)(2018.16,-9.0)(2018.18,37.0)(2018.20,15.5)(2018.22,2.0)(2018.24,10.5)
(2018.26,-4.5)(2018.28,19.0)(2018.30,-12.0)(2018.32,5.5)(2018.34,-19.5)(2018.36,1.0)(2018.38,12.5)(2018.40,-7.0)(2018.42,8.0)
(2018.44,-2.0)(2018.46,15.0)(2018.48,-14.5)(2018.50,4.5)(2018.52,-21.0)(2018.54,28.5)(2018.56,22.0)(2018.58,11.0)(2018.60,17.5)
(2018.62,34.0)(2018.64,3.5)(2018.66,-8.0)(2018.68,9.0)(2018.70,-3.5)(2018.72,14.5)(2018.74,0.0)(2018.76,-12.0)(2018.78,6.0)
(2018.80,-5.0)(2018.82,1.5)(2018.84,-9.5)(2018.86,4.0)(2018.88,17.5)(2018.90,-2.5)(2018.92,19.0)(2018.94,-7.0)(2018.96,2.0)
(2018.98,8.5)(2019.00,-4.0)(2019.02,-10.5)(2019.04,3.0)(2019.06,-1.5)(2019.08,6.5)(2019.10,-8.0)(2019.12,0.5)(2019.14,-4.5)
(2019.16,4.0)(2019.18,-11.5)(2019.20,-2.0)(2019.22,7.0)(2019.24,-6.0)(2019.26,1.5)(2019.28,-17.0)(2019.30,5.0)(2019.32,9.5)
(2019.34,-3.0)(2019.36,14.5)(2019.38,2.5)(2019.40,17.0)(2019.42,-5.5)(2019.44,11.5)(2019.46,30.0)(2019.48,6.0)(2019.50,-1.0)
(2019.52,13.0)(2019.54,-15.0)(2019.56,8.0)(2019.58,-24.0)(2019.60,18.0)(2019.62,3.0)(2019.64,-9.5)(2019.66,11.5)(2019.68,-3.0)
(2019.70,24.0)(2019.72,6.5)(2019.74,-14.0)(2019.76,9.0)(2019.78,-24.5)(2019.79,20.0)(2019.81,62.0)(2019.83,58.5)(2019.85,64.0)
(2019.87,61.0)(2019.89,63.5)(2019.91,59.5)(2019.93,64.5)(2019.95,61.5)(2019.97,63.0)(2019.99,60.5)(2020.00,64.0)};
\addplot[vser] coordinates {
(2017.01,10.0)(2017.04,5.5)(2017.07,15.0)(2017.10,1.5)(2017.13,9.5)(2017.16,13.0)(2017.19,-3.5)(2017.22,8.0)(2017.25,16.5)
(2017.28,4.0)(2017.31,11.5)(2017.34,0.0)(2017.37,8.5)(2017.40,13.5)(2017.43,5.0)(2017.46,-2.0)(2017.49,10.5)(2017.52,3.5)
(2017.55,15.0)(2017.58,-6.5)(2017.61,6.0)(2017.64,18.5)(2017.67,2.5)(2017.70,10.5)(2017.73,-4.0)(2017.76,7.0)(2017.79,12.0)
(2017.82,1.5)(2017.85,6.5)(2017.88,14.0)(2017.91,-1.5)(2017.94,9.5)(2017.97,3.0)(2018.00,11.5)(2018.03,5.5)(2018.06,-5.0)
(2018.09,8.0)(2018.12,14.0)(2018.15,2.0)(2018.18,20.0)(2018.21,9.5)(2018.24,-3.5)(2018.27,4.5)(2018.30,0.5)(2018.33,-8.0)
(2018.36,6.5)(2018.39,-1.5)(2018.42,2.0)(2018.45,8.5)(2018.48,-5.5)(2018.51,1.5)(2018.54,15.0)(2018.57,24.0)(2018.60,7.0)
(2018.63,12.5)(2018.66,2.5)(2018.69,-2.0)(2018.72,6.5)(2018.75,1.0)(2018.78,-6.5)(2018.81,3.0)(2018.84,-1.0)(2018.87,8.0)
(2018.90,12.0)(2018.93,0.5)(2018.96,-4.0)(2018.99,4.5)(2019.02,-2.0)(2019.05,1.5)(2019.08,-6.5)(2019.11,3.5)(2019.14,-1.0)
(2019.17,-8.0)(2019.20,2.0)(2019.23,-3.5)(2019.26,5.0)(2019.29,-1.0)(2019.32,3.0)(2019.35,10.0)(2019.38,6.5)(2019.41,12.5)
(2019.44,4.0)(2019.47,16.0)(2019.50,7.5)(2019.53,2.0)(2019.56,-4.5)(2019.59,10.5)(2019.62,5.5)(2019.65,-1.5)(2019.68,8.5)
(2019.71,-7.0)(2019.74,3.5)(2019.77,13.5)(2019.82,63.0)(2019.86,60.0)(2019.89,62.5)(2019.92,59.0)(2019.95,65.0)(2019.98,62.0)};
\addplot[brk] coordinates {(2019.80,-40) (2019.80,80)};
\addplot[fit] coordinates {(2017,1.8) (2020,11.4)};
\node[anchor=east] at (rel axis cs:0.977,0.84) {\slp{20.5pt}{3.2}{1.1}};
\end{axis}

% panel captions
\node[font=\capfont\fontsize{18}{20}\selectfont] at (318pt,556pt) {(a)};
\node[font=\capfont\fontsize{18}{20}\selectfont] at (975pt,556pt) {(b)};
\node[font=\capfont\fontsize{18}{20}\selectfont] at (318pt,13pt) {(c)};
\node[font=\capfont\fontsize{18}{20}\selectfont] at (975pt,13pt) {(d)};
\end{tikzpicture}
\end{document}
